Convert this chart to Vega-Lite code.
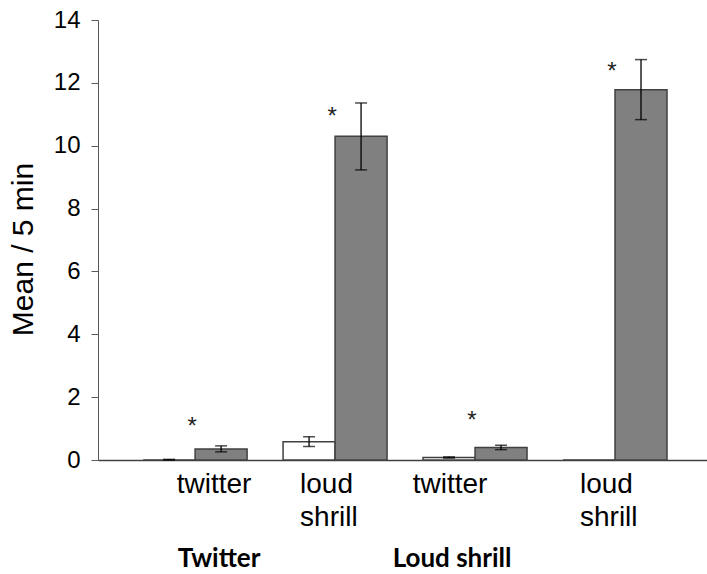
{
  "$schema": "https://vega.github.io/schema/vega-lite/v6.json",
  "width": 609,
  "height": 440,
  "autosize": "none",
  "padding": {"left": 98, "top": 20, "right": 0, "bottom": 114},
  "background": "white",
  "config": {"view": {"stroke": null}, "font": "Liberation Sans"},
  "datasets": {
    "bars": [
      {"cat": "Twitter|twitter", "series": "series 1", "mean": 0.0, "lo": 0.0, "hi": 0.02},
      {"cat": "Twitter|twitter", "series": "series 2", "mean": 0.35, "lo": 0.26, "hi": 0.45},
      {"cat": "Twitter|loud shrill", "series": "series 1", "mean": 0.58, "lo": 0.43, "hi": 0.74},
      {"cat": "Twitter|loud shrill", "series": "series 2", "mean": 10.3, "lo": 9.23, "hi": 11.36},
      {"cat": "Loud shrill|twitter", "series": "series 1", "mean": 0.08, "lo": 0.06, "hi": 0.1},
      {"cat": "Loud shrill|twitter", "series": "series 2", "mean": 0.4, "lo": 0.33, "hi": 0.47},
      {"cat": "Loud shrill|loud shrill", "series": "series 1", "mean": 0.0, "lo": null, "hi": null},
      {"cat": "Loud shrill|loud shrill", "series": "series 2", "mean": 11.78, "lo": 10.83, "hi": 12.74}
    ],
    "stars": [
      {"cat": "Twitter|twitter", "series": "series 2", "pos": 0.83, "mark": "*"},
      {"cat": "Twitter|loud shrill", "series": "series 2", "pos": 10.69, "mark": "*"},
      {"cat": "Loud shrill|twitter", "series": "series 2", "pos": 1.02, "mark": "*"},
      {"cat": "Loud shrill|loud shrill", "series": "series 2", "pos": 12.12, "mark": "*"}
    ]
  },
  "encoding": {
    "x": {
      "field": "cat",
      "type": "nominal",
      "sort": null,
      "scale": {
        "domain": ["Twitter|twitter", "Twitter|loud shrill", "Loud shrill|twitter", "Loud shrill|loud shrill"],
        "paddingInner": 0.257,
        "paddingOuter": 0.304,
        "align": 0.53
      },
      "axis": null
    },
    "xOffset": {
      "field": "series",
      "type": "nominal",
      "scale": {"domain": ["series 1", "series 2"], "paddingInner": 0, "paddingOuter": 0}
    }
  },
  "layer": [
    {
      "data": {"name": "bars"},
      "mark": {"type": "bar", "stroke": "#404040", "strokeWidth": 1.5},
      "encoding": {
        "x": {
          "field": "cat",
          "type": "nominal",
          "sort": null,
          "axis": {
            "orient": "bottom",
            "title": null,
            "ticks": false,
            "domain": true,
            "domainColor": "#404040",
            "domainWidth": 1.5,
            "labelExpr": "split(split(datum.value, '|')[1], ' ')",
            "labelFont": "Liberation Sans",
            "labelFontSize": 28,
            "labelColor": "black",
            "labelAngle": 0,
            "labelPadding": 10,
            "labelLineHeight": 33,
            "labelBaseline": "top",
            "labelAlign": {"condition": {"test": "indexof(datum.value, 'loud shrill') >= 0", "value": "left"}, "value": "center"},
            "labelOffset": {"condition": [
              {"test": "datum.value == 'Twitter|twitter'", "value": 19},
              {"test": "datum.value == 'Loud shrill|twitter'", "value": -25}
            ], "value": -35}
          }
        },
        "y": {
          "field": "mean",
          "type": "quantitative",
          "scale": {"domain": [0, 14], "nice": false},
          "axis": {
            "values": [0, 2, 4, 6, 8, 10, 12, 14],
            "title": "Mean / 5 min",
            "titleFont": "Liberation Sans",
            "titleFontSize": 30,
            "titleFontWeight": "normal",
            "titleColor": "black",
            "titlePadding": 15,
            "titleY": 229,
            "labelFont": "Liberation Sans",
            "labelFontSize": 24,
            "labelColor": "black",
            "labelPadding": 11,
            "tickSize": 7,
            "tickColor": "#595959",
            "domainColor": "#595959",
            "grid": false
          }
        },
        "fill": {
          "field": "series",
          "type": "nominal",
          "scale": {"domain": ["series 1", "series 2"], "range": ["#ffffff", "#808080"]},
          "legend": null
        }
      }
    },
    {
      "data": {"name": "bars"},
      "transform": [{"filter": "datum.hi != null"}],
      "mark": {"type": "rule", "color": "black", "strokeWidth": 1.3},
      "encoding": {
        "y": {"field": "lo", "type": "quantitative"},
        "y2": {"field": "hi"}
      }
    },
    {
      "data": {"name": "bars"},
      "transform": [{"filter": "datum.hi != null"}],
      "mark": {"type": "tick", "color": "black", "thickness": 1.5, "size": 12},
      "encoding": {
        "y": {"field": "lo", "type": "quantitative"}
      }
    },
    {
      "data": {"name": "bars"},
      "transform": [{"filter": "datum.hi != null"}],
      "mark": {"type": "tick", "color": "black", "thickness": 1.5, "size": 12},
      "encoding": {
        "y": {"field": "hi", "type": "quantitative"}
      }
    },
    {
      "data": {"name": "stars"},
      "mark": {"type": "text", "font": "Liberation Sans", "fontSize": 24, "dx": -29, "baseline": "alphabetic", "color": "#222222"},
      "encoding": {
        "y": {"field": "pos", "type": "quantitative"},
        "text": {"field": "mark"}
      }
    },
    {
      "data": {"name": "bars"},
      "transform": [{"filter": "datum.series == 'series 1'"}],
      "mark": {"type": "tick", "opacity": 0},
      "encoding": {
        "x": {
          "field": "cat",
          "type": "nominal",
          "sort": null,
          "axis": {
            "orient": "bottom",
            "title": null,
            "ticks": false,
            "domain": false,
            "offset": 85,
            "labelExpr": "split(datum.value, '|')[1] == 'twitter' ? split(datum.value, '|')[0] : ''",
            "labelFont": "Lato",
            "labelFontWeight": "bold",
            "labelFontSize": 26,
            "labelColor": "black",
            "labelAngle": 0,
            "labelBaseline": "top",
            "labelPadding": 0,
            "labelOffset": {"condition": {"test": "datum.value == 'Twitter|twitter'", "value": 24}, "value": -23}
          }
        },
        "xOffset": null,
        "y": {"field": "mean", "type": "quantitative"}
      }
    }
  ],
  "resolve": {"axis": {"x": "independent"}}
}
